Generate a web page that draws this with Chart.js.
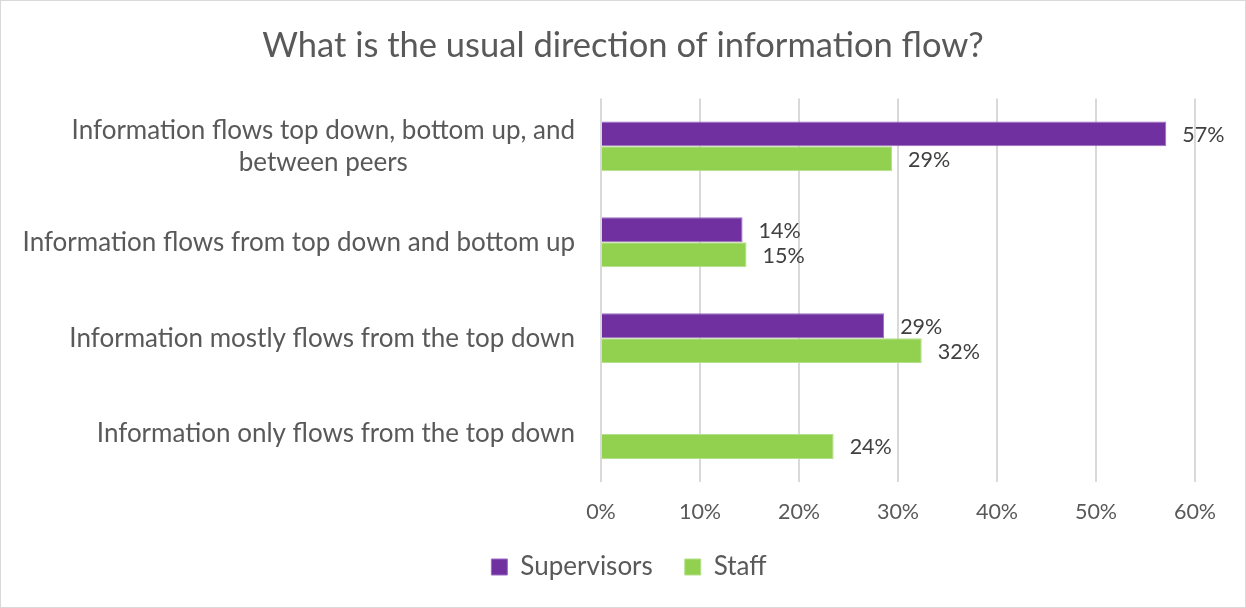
<!DOCTYPE html>
<html>
<head>
<meta charset="utf-8">
<title>Information flow</title>
<script src="https://cdn.jsdelivr.net/npm/chart.js@4.4.1/dist/chart.umd.min.js"></script>
<style>
  html, body { margin: 0; padding: 0; background: #fff; }
  #wrap { width: 1246px; height: 608px; }
</style>
</head>
<body>
<div id="wrap"><canvas id="flowChart" width="1246" height="608"></canvas></div>
<script>
// categories (first one wraps on two lines)
const categories = [
  ['Information flows top down, bottom up, and', 'between peers'],
  'Information flows from top down and bottom up',
  'Information mostly flows from the top down',
  'Information only flows from the top down'
];

// percentages per group
const supervisors = [57.1, 14.3, 28.6, null];
const staff = [29.4, 14.7, 32.4, 23.5];

const xTicks = [0, 10, 20, 30, 40, 50, 60];

const FONT = 'Lato, "Open Sans", sans-serif';
const GREY = '#595959';

// white background + thin frame
const frame = {
  id: 'frame',
  beforeDraw(chart) {
    const ctx = chart.ctx;
    ctx.save();
    ctx.fillStyle = '#fff';
    ctx.fillRect(0, 0, chart.width, chart.height);
    ctx.strokeStyle = '#d9d9d9';
    ctx.lineWidth = 1;
    ctx.strokeRect(0.5, 0.5, chart.width - 1, chart.height - 1);
    ctx.restore();
  }
};

// title and legend are centred on the whole canvas, not on the plot
const centreBlocks = {
  id: 'centreBlocks',
  afterLayout(chart) {
    [chart.titleBlock, chart.legend].forEach(b => {
      if (!b) return;
      b.left = 0;
      b.right = chart.width;
    });
    chart.legend.left += 6;
    chart.legend.right += 6;
  }
};

// category names, right aligned block with centred lines
const catLabels = {
  id: 'catLabels',
  afterDraw(chart) {
    const ctx = chart.ctx;
    const y = chart.scales.y;
    const right = chart.chartArea.left - 26;
    ctx.save();
    ctx.font = '26px ' + FONT;
    ctx.fillStyle = GREY;
    ctx.textAlign = 'center';
    ctx.textBaseline = 'middle';
    categories.forEach((cat, i) => {
      const lines = Array.isArray(cat) ? cat : [cat];
      const w = Math.max(...lines.map(l => ctx.measureText(l).width));
      const cx = right - w / 2;
      const lh = 32;
      const y0 = y.getPixelForTick(i) - (lines.length - 1) * lh / 2;
      lines.forEach((l, k) => ctx.fillText(l, cx, y0 + k * lh));
    });
    ctx.restore();
  }
};

// value labels at the end of each bar
const valueLabels = {
  id: 'valueLabels',
  afterDatasetsDraw(chart) {
    const ctx = chart.ctx;
    ctx.save();
    ctx.font = '21.5px ' + FONT;
    ctx.fillStyle = '#404040';
    ctx.textAlign = 'left';
    ctx.textBaseline = 'middle';
    chart.data.datasets.forEach((ds, di) => {
      const meta = chart.getDatasetMeta(di);
      meta.data.forEach((bar, i) => {
        const v = ds.data[i];
        if (v === null || v === undefined) return;
        ctx.fillText(Math.round(v) + '%', bar.x + 16, bar.y + 1);
      });
    });
    ctx.restore();
  }
};

new Chart(document.getElementById('flowChart'), {
  type: 'bar',
  data: {
    labels: categories,
    datasets: [
      {
        label: 'Supervisors',
        data: supervisors,
        backgroundColor: '#7030a0',
        borderColor: '#9b6cc4',
        borderWidth: 1,
        categoryPercentage: 0.52,
        barPercentage: 1.0
      },
      {
        label: 'Staff',
        data: staff,
        backgroundColor: '#92d050',
        borderColor: '#b3e08a',
        borderWidth: 1,
        categoryPercentage: 0.52,
        barPercentage: 1.0
      }
    ]
  },
  options: {
    indexAxis: 'y',
    responsive: false,
    animation: false,
    layout: { padding: { left: 1, right: 51, top: 0, bottom: 18 } },
    plugins: {
      title: {
        display: true,
        text: 'What is the usual direction of information flow?',
        color: GREY,
        font: { family: FONT, size: 34.5, weight: 'normal' },
        padding: { top: 25, bottom: 32 }
      },
      legend: {
        position: 'bottom',
        labels: {
          color: GREY,
          font: { family: FONT, size: 26 },
          boxWidth: 16,
          boxHeight: 16,
          padding: 32
        }
      },
      tooltip: { enabled: false }
    },
    scales: {
      x: {
        min: 0,
        max: 60,
        afterBuildTicks(scale) {
          scale.ticks = xTicks.map(v => ({ value: v }));
        },
        afterFit(scale) { scale.height = 40; },
        grid: { color: '#d9d9d9', lineWidth: 2, drawTicks: false },
        border: { display: false },
        ticks: {
          color: GREY,
          padding: 17,
          font: { family: FONT, size: 21.5 },
          callback: v => v + '%'
        }
      },
      y: {
        afterFit(scale) { scale.width = 600; },
        grid: { display: false },
        border: { display: false },
        ticks: { display: false }
      }
    }
  },
  plugins: [frame, centreBlocks, catLabels, valueLabels]
});
</script>
</body>
</html>
